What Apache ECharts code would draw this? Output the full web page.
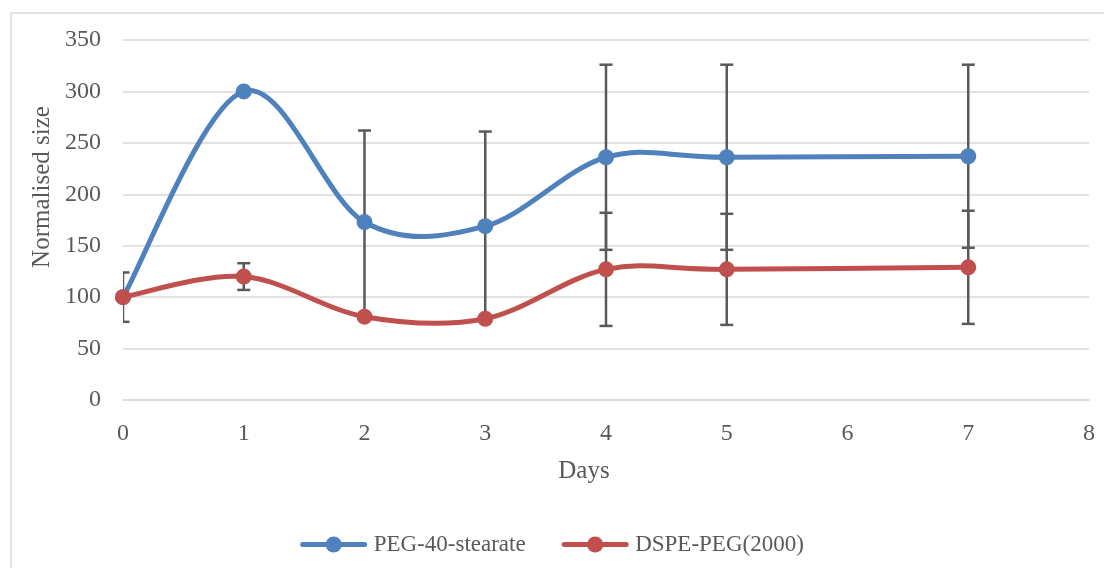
<!DOCTYPE html>
<html>
<head>
<meta charset="utf-8">
<script src="https://cdn.jsdelivr.net/npm/echarts@6/dist/echarts.min.js"></script>
<style>html,body{margin:0;padding:0;background:#fff;}#c{width:1104px;height:568px;}</style>
</head>
<body>
<div id="c"></div>
<script>
const days = [0, 1, 2, 3, 4, 5, 7];
const pegValues = [100, 300, 173, 169, 236, 236, 237];
const pegErrors = [24, null, 89, 92, 90, 90, 89];
const dspeValues = [100, 120, 81, 79, 127, 127, 129];
const dspeErrors = [null, 13, null, null, 55, 54, 55];
const yTicks = [0, 50, 100, 150, 200, 250, 300, 350];
const xTicks = [0, 1, 2, 3, 4, 5, 6, 7, 8];

const FONT = 'Liberation Serif';
const TXT = '#595959';
const BLUE = '#4F81BD';
const RED = '#C0504D';

function pairs(xs, ys) { return xs.map((x, i) => [x, ys[i]]); }
function errData(xs, ys, es) {
  const out = [];
  xs.forEach((x, i) => { if (es[i] != null) out.push([x, ys[i] - es[i], ys[i] + es[i]]); });
  return out;
}
// segments: previous, start, end, next point of each stretch of the curve
function segData(xs, ys) {
  const n = xs.length, out = [];
  for (let i = 0; i < n - 1; i++) {
    const a = Math.max(i - 1, 0), d = Math.min(i + 2, n - 1);
    out.push([xs[a], ys[a], xs[i], ys[i], xs[i + 1], ys[i + 1], xs[d], ys[d]]);
  }
  return out;
}
function curveSeries(name, data, color) {
  return {
    type: 'custom', name: name, data: data, z: 2, clip: true, silent: true,
    encode: { x: [0, 2, 4, 6], y: [1, 3, 5, 7] },
    renderItem: function (params, api) {
      const p0 = api.coord([api.value(0), api.value(1)]);
      const p1 = api.coord([api.value(2), api.value(3)]);
      const p2 = api.coord([api.value(4), api.value(5)]);
      const p3 = api.coord([api.value(6), api.value(7)]);
      const t = 1 / 6;
      return {
        type: 'bezierCurve',
        shape: {
          x1: p1[0], y1: p1[1], x2: p2[0], y2: p2[1],
          cpx1: p1[0] + (p2[0] - p0[0]) * t, cpy1: p1[1] + (p2[1] - p0[1]) * t,
          cpx2: p2[0] - (p3[0] - p1[0]) * t, cpy2: p2[1] - (p3[1] - p1[1]) * t
        },
        style: { stroke: color, lineWidth: 5, fill: 'none', lineCap: 'round' }
      };
    }
  };
}
function errSeries(data) {
  return {
    type: 'custom', data: data, z: 1, clip: true, silent: true,
    renderItem: function (params, api) {
      const x = api.value(0);
      const lo = api.coord([x, api.value(1)]);
      const hi = api.coord([x, api.value(2)]);
      const w = 6.5;
      const st = { stroke: '#595959', lineWidth: 2.5 };
      return {
        type: 'group',
        children: [
          { type: 'line', shape: { x1: lo[0], y1: lo[1], x2: hi[0], y2: hi[1] }, style: st },
          { type: 'line', shape: { x1: lo[0] - w, y1: lo[1], x2: lo[0] + w, y2: lo[1] }, style: st },
          { type: 'line', shape: { x1: hi[0] - w, y1: hi[1], x2: hi[0] + w, y2: hi[1] }, style: st }
        ]
      };
    }
  };
}

const chart = echarts.init(document.getElementById('c'));
chart.setOption({
  animation: false,
  backgroundColor: '#fff',
  grid: { left: 123, right: 15, top: 40, bottom: 168 },
  graphic: [
    { type: 'rect', shape: { x: 11, y: 13, width: 1200, height: 700 }, style: { fill: 'none', stroke: '#d9d9d9', lineWidth: 1.5 }, z: -10 },
    { type: 'text', x: 42, y: 187, rotation: Math.PI / 2, style: { text: 'Normalised size', font: '25px "' + FONT + '"', fill: TXT, textAlign: 'center', textVerticalAlign: 'middle' } },
    { type: 'text', x: 584, y: 471, style: { text: 'Days', font: '25px "' + FONT + '"', fill: TXT, textAlign: 'center', textVerticalAlign: 'middle' } }
  ],
  legend: {
    bottom: 7, left: 'center', itemWidth: 62, itemHeight: 20, itemGap: 36,
    textStyle: { fontFamily: FONT, fontSize: 23, color: TXT, padding: [0, 0, 0, 4] },
    data: [
      { name: 'PEG-40-stearate', lineStyle: { color: BLUE, width: 5, opacity: 1, cap: 'round' } },
      { name: 'DSPE-PEG(2000)', lineStyle: { color: RED, width: 5, opacity: 1, cap: 'round' } }
    ]
  },
  xAxis: {
    type: 'value', min: xTicks[0], max: xTicks[xTicks.length - 1], interval: 1,
    axisLine: { lineStyle: { color: '#d9d9d9', width: 1.5 } },
    axisTick: { show: false }, splitLine: { show: false },
    axisLabel: { fontFamily: FONT, fontSize: 24, color: TXT, margin: 22 }
  },
  yAxis: {
    type: 'value', min: yTicks[0], max: yTicks[yTicks.length - 1], interval: 50,
    axisLine: { show: false }, axisTick: { show: false },
    splitLine: { lineStyle: { color: '#d9d9d9', width: 1.5 } },
    axisLabel: { fontFamily: FONT, fontSize: 24, color: TXT, margin: 22 }
  },
  series: [
    errSeries(errData(days, pegValues, pegErrors)),
    errSeries(errData(days, dspeValues, dspeErrors)),
    curveSeries('pegCurve', segData(days, pegValues), BLUE),
    curveSeries('dspeCurve', segData(days, dspeValues), RED),
    {
      name: 'PEG-40-stearate', type: 'line', data: pairs(days, pegValues), z: 3,
      symbol: 'circle', symbolSize: 16,
      lineStyle: { color: BLUE, width: 5, opacity: 0 }, itemStyle: { color: BLUE }
    },
    {
      name: 'DSPE-PEG(2000)', type: 'line', data: pairs(days, dspeValues), z: 3,
      symbol: 'circle', symbolSize: 16,
      lineStyle: { color: RED, width: 5, opacity: 0 }, itemStyle: { color: RED }
    }
  ]
});
</script>
</body>
</html>
